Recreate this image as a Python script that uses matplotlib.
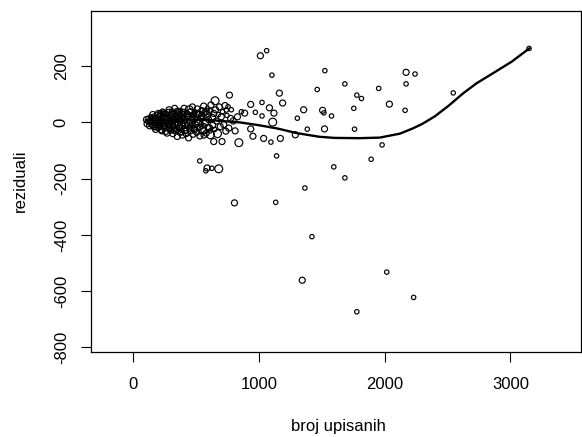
import matplotlib
matplotlib.use('Agg')
import matplotlib.pyplot as plt

plt.rcParams['font.family'] = ['Liberation Sans', 'DejaVu Sans']
plt.rcParams['axes.unicode_minus'] = False

# rasprseni reziduali (broj upisanih, rezidual, velicina kruga 1-3)
x_out = [1011, 1061, 1103, 1162, 1188, 934, 1024, 1083, 1119, 971, 886, 1024, 1109, 934, 952,
         1037, 1095, 1170, 1140, 1289, 1355, 1305, 1384, 1524, 1463, 1506, 1516, 1577, 1521, 1683,
         1778, 1815, 1754, 1760, 1952, 2037, 2162, 2170, 2241, 2170, 1979, 1892, 1595, 1683, 1365,
         2545, 3148, 805, 1133, 1421, 1344, 2016, 2230, 1778, 765, 651, 754, 829, 736, 640,
         706, 840, 529, 587, 625, 680, 577, 614, 563, 606, 775, 741, 860]
y_out = [237, 255, 168, 104, 69, 64, 71, 52, 33, 36, 33, 23, 1, -23, -49,
         -57, -70, -57, -119, -44, 45, 15, -24, 184, 117, 43, 34, 23, -23, 137,
         97, 85, 50, -24, 121, 65, 43, 178, 172, 137, -80, -131, -158, -197, -233,
         105, 263, -286, -284, -406, -561, -532, -622, -673, 97, 77, 56, 20, -31, -68,
         -68, -72, -137, -162, -163, -165, -172, -44, -45, -19, 14, 44, 38]
s_out = [2, 1, 1, 2, 2, 2, 1, 2, 2, 1, 2, 1, 3, 2, 2,
         2, 1, 2, 1, 2, 2, 1, 1, 1, 1, 2, 1, 1, 2, 1,
         1, 1, 1, 1, 1, 2, 1, 2, 1, 1, 1, 1, 1, 1, 1,
         1, 1, 2, 1, 1, 2, 1, 1, 1, 2, 3, 1, 2, 2, 2,
         2, 3, 1, 2, 1, 3, 1, 3, 2, 2, 2, 1, 1]

# gusti dio (mali broj upisanih)
x_gust = [105, 110, 118, 125, 130, 138, 142, 150, 155, 160, 165, 170, 178, 182, 190, 195, 200, 205,
          210, 215, 220, 228, 232, 238, 245, 250, 255, 262, 268, 272, 278, 285, 290, 295, 300,
          305, 310, 315, 320, 325, 330, 335, 340, 345, 350, 355, 360, 365, 370, 375, 380, 385, 390, 395, 400,
          405, 410, 415, 420, 425, 430, 435, 440, 445, 450, 455, 460, 465, 470, 475, 480, 485, 490, 495, 500,
          505, 510, 515, 520, 525, 530, 535, 540, 545, 550, 555, 560, 565, 570, 575, 580, 585, 590, 595, 600,
          605, 612, 618, 625, 632, 640, 648, 655, 662, 670, 678, 685, 692, 700,
          710, 720, 730, 745, 760, 780, 795, 810,
          145, 152, 158, 163, 168, 174, 180, 186, 192, 198, 203, 208, 213, 218, 224, 230, 236, 242,
          248, 253, 258, 265, 270, 276, 282, 288, 293, 298, 303, 308, 313, 318, 323, 328, 333, 338,
          343, 348, 353, 358, 363, 368, 373, 378, 383, 388, 393, 398, 408, 418, 428, 438, 448, 458,
          468, 478, 488, 498, 512, 528, 545, 562, 580]
y_gust = [10, -5, 15, 2, -12, 20, 5, -8, 28, -18, 12, 0, -25, 18, 6, -10, 32, -3,
          22, -15, 8, -30, 40, -6, 14, -20, 30, 2, -38, 18, -12, 45, 5, -28, 25,
          -8, 38, -40, 12, -18, 50, 0, -30, 22, -50, 35, -10, 8, -35, 42, -20, 15, -45, 28, -5,
          50, -25, 10, -40, 35, -12, 20, -55, 45, 0, -30, 25, -15, 55, -42, 12, -22, 38, -8, 20,
          -35, 48, 5, -20, 30, -48, 15, -5, 42, -28, 20, 58, -12, 35, 0, -38, 25, 50, -18, 10,
          40, -30, 62, 15, -10, 32, -25, 45, 5, -40, 28, 55, -15, 20,
          38, -8, 60, 25, -20, 45, 5, -30,
          3, 14, -10, 22, 6, -16, 10, -4, 26, -22, 16, 4, -12, 30, -26, 10, 2, 34,
          -14, 20, -32, 8, 28, -6, 36, -18, 12, -2, 30, -22, 18, 6, -28, 32, -10, 24,
          10, -24, 40, -4, 16, -20, 28, 4, -34, 20, -14, 36, 16, -28, 30, 6, -20, 38,
          -6, 28, -26, 14, 32, -16, 24, -30, 40]
s_gust = [2, 2, 1, 2, 2, 1, 2, 2, 2, 1, 2, 2, 2, 1, 2, 2, 2, 1,
          2, 2, 2, 2, 1, 2, 3, 2, 2, 1, 2, 2, 2, 2, 1, 2, 2,
          3, 2, 2, 1, 2, 2, 2, 2, 1, 2, 2, 3, 2, 2, 1, 2, 2, 2, 2, 1,
          2, 3, 2, 2, 1, 2, 2, 2, 3, 2, 2, 1, 2, 2, 2, 3, 2, 1, 2, 2,
          2, 2, 3, 1, 2, 2, 2, 1, 2, 3, 2, 2, 1, 2, 2, 2, 3, 1, 2, 2,
          2, 1, 2, 3, 2, 2, 1, 2, 2, 3, 1, 2, 2, 2,
          1, 2, 2, 1, 2, 1, 2, 2,
          2, 2, 2, 1, 2, 2, 2, 2, 2, 1, 2, 2, 2, 2, 2, 2, 1, 2,
          2, 2, 2, 2, 1, 2, 2, 2, 2, 2, 2, 1, 2, 2, 2, 2, 2, 2,
          1, 2, 2, 2, 2, 2, 2, 1, 2, 2, 2, 2, 2, 2, 2, 1, 2, 2,
          2, 2, 2, 1, 2, 2, 2, 2, 2]

# lowess krivulja
x_lin = [100, 300, 500, 650, 850, 1000, 1150, 1300, 1480, 1600, 1800, 1960, 2120, 2220, 2300,
         2400, 2510, 2620, 2730, 2880, 3010, 3150]
y_lin = [8, 10, 10, 7, 0, -10, -22, -38, -51, -55, -56, -54, -40, -22, -5,
         22, 60, 102, 139, 180, 216, 263]

velicine = {1: 10, 2: 19, 3: 32}

fig = plt.figure(figsize=(5.82, 4.37), dpi=100)
ax = fig.add_axes([91 / 582, 1 - 352 / 437, 490 / 582, 341 / 437])

ax.scatter(x_gust + x_out, y_gust + y_out,
           s=[velicine[k] for k in s_gust + s_out],
           facecolors='none', edgecolors='black', linewidths=0.85)
ax.plot(x_lin, y_lin, color='black', lw=1.7)

ax.set_xlim(-336, 3561)
ax.set_ylim(-816, 396)
ax.set_xticks([0, 1000, 2000, 3000])
ax.set_yticks([-800, -600, -400, -200, 0, 200])
ax.tick_params(axis='x', length=7, width=0.8, labelsize=12, pad=11, colors='black')
ax.tick_params(axis='y', length=7, width=0.8, labelsize=12, pad=9, colors='black')
for lab in ax.get_yticklabels():
    lab.set_rotation(90)
    lab.set_va('center')
for sp in ax.spines.values():
    sp.set_linewidth(0.9)

fig.text(338 / 582, 1 - 427 / 437, 'broj upisanih', ha='center', va='center', fontsize=12)
fig.text(20 / 582, 1 - 181 / 437, 'reziduali', ha='center', va='center', fontsize=12, rotation=90)

fig.savefig('out.png', dpi=100)
